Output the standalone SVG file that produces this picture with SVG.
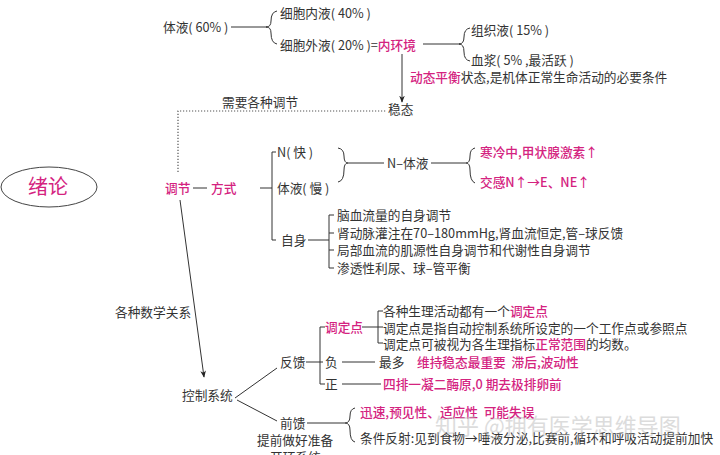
<svg xmlns="http://www.w3.org/2000/svg" width="720" height="455" viewBox="0 0 720 455">
<defs>
<style>
text{font-family:"Noto Sans CJK SC","Noto Sans",sans-serif;font-size:12.7px;fill:#333}
.m{fill:#d4237f}
.mb{fill:#d4237f;font-weight:500}
.ln{fill:none;stroke:#333;stroke-width:1}
.dot{fill:none;stroke:#555;stroke-width:1.2;stroke-dasharray:1.2 1.8}
.wm{font-size:22px;fill:#bbb;opacity:.5}
</style>
<marker id="ah" viewBox="0 0 10 10" refX="9" refY="5" markerWidth="7" markerHeight="9" orient="auto" markerUnits="userSpaceOnUse">
<path d="M0,1 L10,5 L0,9 L3,5 Z" fill="#222"/>
</marker>
</defs>
<rect width="720" height="455" fill="#fff"/>

<g id="connectors">
<line class="ln" x1="231" y1="27" x2="267" y2="27"/>
<path class="ln" d="M277,11 Q271,12 271,21 Q271,27 266,27 Q271,27 271,33 Q271,43 277,44"/>
<line class="ln" x1="423" y1="44" x2="460" y2="44"/>
<path class="ln" d="M470,28 Q464,29 464,37 Q464,44 459,44 Q464,44 464,52 Q464,60 470,61"/>
<line class="ln" x1="402" y1="54" x2="402" y2="102" marker-end="url(#ah)"/>
<path class="dot" d="M178,172 V111 H386"/>
<line class="ln" x1="193" y1="188" x2="207" y2="188"/>
<line class="ln" x1="260" y1="188" x2="272" y2="188"/>
<path class="ln" d="M276,152 H272 V240 H276"/>
<path class="ln" d="M338,148 Q344,149 344,156 Q344,163 348,163 Q344,163 344,170 Q344,181 338,182"/>
<line class="ln" x1="348" y1="163" x2="384" y2="163"/>
<line class="ln" x1="431" y1="163" x2="466" y2="163"/>
<path class="ln" d="M475,148 Q470,149 470,156 Q470,163 466,163 Q470,163 470,170 Q470,181 475,183"/>
<line class="ln" x1="308" y1="240" x2="329" y2="240"/>
<path class="ln" d="M334,215 H329 V268 H334 M329,233 H334 M329,250 H334"/>
<line class="ln" x1="180" y1="200" x2="204" y2="377" marker-end="url(#ah)"/>
<line class="ln" x1="235" y1="398" x2="277" y2="368"/>
<line class="ln" x1="306" y1="362" x2="320" y2="362"/>
<path class="ln" d="M325,327 H320 V384 H325 M320,362 H323"/>
<line class="ln" x1="362" y1="327" x2="378" y2="327"/>
<path class="ln" d="M383,311 H378 V343 H383 M378,327 H383"/>
<line class="ln" x1="342" y1="362" x2="375" y2="362"/>
<line class="ln" x1="342" y1="384" x2="381" y2="384"/>
<line class="ln" x1="237" y1="400" x2="277" y2="421"/>
<line class="ln" x1="307" y1="423" x2="345" y2="423"/>
<path class="ln" d="M355,408 Q350,409 350,416 Q350,423 345,423 Q350,423 350,430 Q350,441 355,442"/>
</g>

<g id="n-tiye"><text x="163" y="32">体液( 60% )</text></g>
<g id="n-xibaoneiye"><text x="280" y="18">细胞内液( 40% )</text></g>
<g id="n-xibaowaiye"><text x="280" y="50">细胞外液( 20% )=<tspan class="mb">内环境</tspan></text></g>
<g id="n-zuzhiye"><text x="471" y="35">组织液( 15% )</text></g>
<g id="n-xuejiang"><text x="471" y="65">血浆( 5% ,最活跃 )</text></g>
<g id="n-dongtai"><text x="410" y="82"><tspan class="mb">动态平衡</tspan>状态,是机体正常生命活动的必要条件</text></g>
<g id="n-wentai"><text x="388" y="114">稳态</text></g>
<g id="n-xuyao"><text x="222" y="107">需要各种调节</text></g>

<g id="n-xulun">
<ellipse cx="49" cy="187" rx="48" ry="20" fill="none" stroke="#444" stroke-width="1"/>
<text x="48" y="194" text-anchor="middle" class="m" style="font-size:20px">绪论</text>
</g>
<g id="n-tiaojie"><text x="165" y="193" class="mb">调节</text></g>
<g id="n-fangshi"><text x="211" y="193" class="mb">方式</text></g>
<g id="n-nkuai"><text x="277" y="157">N( 快 )</text></g>
<g id="n-tiyeman"><text x="277" y="193">体液( 慢 )</text></g>
<g id="n-ntiye"><text x="387" y="168">N–体液</text></g>
<g id="n-hanleng"><text x="480" y="157" class="mb">寒冷中,甲状腺激素↑</text></g>
<g id="n-jiaogan"><text x="480" y="187" class="mb">交感N↑→E、NE↑</text></g>
<g id="n-zishen"><text x="281" y="245">自身</text></g>
<g id="n-zishen-items">
<text x="337" y="220">脑血流量的自身调节</text>
<text x="337" y="238">肾动脉灌注在70–180mmHg,肾血流恒定,管–球反馈</text>
<text x="337" y="255">局部血流的肌源性自身调节和代谢性自身调节</text>
<text x="337" y="273">渗透性利尿、球–管平衡</text>
</g>

<g id="n-shuxue"><text x="115" y="317">各种数学关系</text></g>
<g id="n-kongzhi"><text x="182" y="400">控制系统</text></g>
<g id="n-fankui"><text x="280" y="367">反馈</text></g>
<g id="n-tiaodingdian"><text x="325" y="332" class="mb">调定点</text></g>
<g id="n-tdd-items">
<text x="383" y="316">各种生理活动都有一个<tspan class="mb">调定点</tspan></text>
<text x="383" y="333">调定点是指自动控制系统所设定的一个工作点或参照点</text>
<text x="383" y="349">调定点可被视为各生理指标<tspan class="mb">正常范围</tspan>的均数。</text>
</g>
<g id="n-fu"><text x="325" y="367">负</text></g>
<g id="n-fu-item"><text x="379" y="367">最多</text><text x="417" y="367" class="mb" xml:space="preserve">维持稳态最重要  滞后,波动性</text></g>
<g id="n-zheng"><text x="325" y="389">正</text></g>
<g id="n-zheng-item"><text x="383" y="389" class="mb">四排一凝二酶原,0 期去极排卵前</text></g>
<g id="n-qiankui"><text x="280" y="428">前馈</text></g>
<g id="n-qiankui-note"><text x="257" y="445">提前做好准备</text><text x="270" y="462">开环系统</text></g>
<g id="n-qk-items">
<text x="360" y="417" class="mb" xml:space="preserve">迅速,预见性、适应性  可能失误</text>
<text x="360" y="443">条件反射:见到食物→唾液分泌,比赛前,循环和呼吸活动提前加快</text>
</g>
<text x="435" y="434" class="wm">知乎 @拥有医学思维导图</text>
</svg>
